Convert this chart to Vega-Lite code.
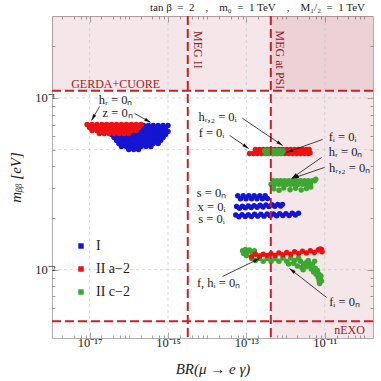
{
"$schema":"https://vega.github.io/schema/vega-lite/v6.json",
"width":321,"height":322,"autosize":"none",
"padding":{"left":52,"top":16,"right":8,"bottom":43},
"background":"white",
"config":{"view":{"stroke":"#b0b0b0","strokeWidth":1},"font":"Liberation Serif"},
"title":{"text":"tan β\u2002=\u20022\u2003,\u2003m₀\u2002=\u20021 TeV\u2003,\u2003M₁/₂\u2002=\u20021 TeV","anchor":"end","frame":"group","offset":2,"dx":-8,"font":"Liberation Serif","fontSize":11,"fontWeight":"normal","color":"#222"},
"resolve":{"axis":{"x":"independent","y":"independent"}},
"datasets":{
"points":[
{"br":2.371e-17,"mbb":0.0692,"model":"I"},{"br":3.162e-17,"mbb":0.0692,"model":"I"},{"br":4.217e-17,"mbb":0.0692,"model":"I"},{"br":5.623e-17,"mbb":0.0692,"model":"I"},{"br":7.499e-17,"mbb":0.0692,"model":"I"},{"br":1e-16,"mbb":0.0692,"model":"I"},{"br":1.334e-16,"mbb":0.0692,"model":"I"},{"br":1.778e-16,"mbb":0.0692,"model":"I"},{"br":2.371e-16,"mbb":0.0692,"model":"I"},{"br":3.162e-16,"mbb":0.0692,"model":"I"},{"br":4.217e-16,"mbb":0.0692,"model":"I"},{"br":5.623e-16,"mbb":0.0692,"model":"I"},{"br":7.499e-16,"mbb":0.0692,"model":"I"},{"br":1e-15,"mbb":0.0692,"model":"I"},
{"br":2.738e-17,"mbb":0.0664,"model":"I"},{"br":3.652e-17,"mbb":0.0664,"model":"I"},{"br":4.87e-17,"mbb":0.0664,"model":"I"},{"br":6.494e-17,"mbb":0.0664,"model":"I"},{"br":8.66e-17,"mbb":0.0664,"model":"I"},{"br":1.155e-16,"mbb":0.0664,"model":"I"},{"br":1.54e-16,"mbb":0.0664,"model":"I"},{"br":2.054e-16,"mbb":0.0664,"model":"I"},{"br":2.738e-16,"mbb":0.0664,"model":"I"},{"br":3.652e-16,"mbb":0.0664,"model":"I"},{"br":4.87e-16,"mbb":0.0664,"model":"I"},{"br":6.494e-16,"mbb":0.0664,"model":"I"},{"br":8.66e-16,"mbb":0.0664,"model":"I"},
{"br":3.162e-17,"mbb":0.0638,"model":"I"},{"br":4.217e-17,"mbb":0.0638,"model":"I"},{"br":5.623e-17,"mbb":0.0638,"model":"I"},{"br":7.499e-17,"mbb":0.0638,"model":"I"},{"br":1e-16,"mbb":0.0638,"model":"I"},{"br":1.334e-16,"mbb":0.0638,"model":"I"},{"br":1.778e-16,"mbb":0.0638,"model":"I"},{"br":2.371e-16,"mbb":0.0638,"model":"I"},{"br":3.162e-16,"mbb":0.0638,"model":"I"},{"br":4.217e-16,"mbb":0.0638,"model":"I"},{"br":5.623e-16,"mbb":0.0638,"model":"I"},{"br":7.499e-16,"mbb":0.0638,"model":"I"},{"br":1e-15,"mbb":0.0638,"model":"I"},
{"br":3.652e-17,"mbb":0.0613,"model":"I"},{"br":4.87e-17,"mbb":0.0613,"model":"I"},{"br":6.494e-17,"mbb":0.0613,"model":"I"},{"br":8.66e-17,"mbb":0.0613,"model":"I"},{"br":1.155e-16,"mbb":0.0613,"model":"I"},{"br":1.54e-16,"mbb":0.0613,"model":"I"},{"br":2.054e-16,"mbb":0.0613,"model":"I"},{"br":2.738e-16,"mbb":0.0613,"model":"I"},{"br":3.652e-16,"mbb":0.0613,"model":"I"},{"br":4.87e-16,"mbb":0.0613,"model":"I"},{"br":6.494e-16,"mbb":0.0613,"model":"I"},{"br":8.66e-16,"mbb":0.0613,"model":"I"},
{"br":4.217e-17,"mbb":0.0589,"model":"I"},{"br":5.623e-17,"mbb":0.0589,"model":"I"},{"br":7.499e-17,"mbb":0.0589,"model":"I"},{"br":1e-16,"mbb":0.0589,"model":"I"},{"br":1.334e-16,"mbb":0.0589,"model":"I"},{"br":1.778e-16,"mbb":0.0589,"model":"I"},{"br":2.371e-16,"mbb":0.0589,"model":"I"},{"br":3.162e-16,"mbb":0.0589,"model":"I"},{"br":4.217e-16,"mbb":0.0589,"model":"I"},{"br":5.623e-16,"mbb":0.0589,"model":"I"},{"br":7.499e-16,"mbb":0.0589,"model":"I"},
{"br":4.87e-17,"mbb":0.0565,"model":"I"},{"br":6.494e-17,"mbb":0.0565,"model":"I"},{"br":8.66e-17,"mbb":0.0565,"model":"I"},{"br":1.155e-16,"mbb":0.0565,"model":"I"},{"br":1.54e-16,"mbb":0.0565,"model":"I"},{"br":2.054e-16,"mbb":0.0565,"model":"I"},{"br":2.738e-16,"mbb":0.0565,"model":"I"},{"br":3.652e-16,"mbb":0.0565,"model":"I"},{"br":4.87e-16,"mbb":0.0565,"model":"I"},{"br":6.494e-16,"mbb":0.0565,"model":"I"},
{"br":5.623e-17,"mbb":0.0543,"model":"I"},{"br":7.499e-17,"mbb":0.0543,"model":"I"},{"br":1e-16,"mbb":0.0543,"model":"I"},{"br":1.334e-16,"mbb":0.0543,"model":"I"},{"br":1.778e-16,"mbb":0.0543,"model":"I"},{"br":2.371e-16,"mbb":0.0543,"model":"I"},{"br":3.162e-16,"mbb":0.0543,"model":"I"},{"br":4.217e-16,"mbb":0.0543,"model":"I"},{"br":5.623e-16,"mbb":0.0543,"model":"I"},
{"br":6.494e-17,"mbb":0.0522,"model":"I"},{"br":8.66e-17,"mbb":0.0522,"model":"I"},{"br":1.155e-16,"mbb":0.0522,"model":"I"},{"br":1.54e-16,"mbb":0.0522,"model":"I"},{"br":2.054e-16,"mbb":0.0522,"model":"I"},{"br":2.738e-16,"mbb":0.0522,"model":"I"},{"br":3.652e-16,"mbb":0.0522,"model":"I"},
{"br":1e-16,"mbb":0.0501,"model":"I"},{"br":1.334e-16,"mbb":0.0501,"model":"I"},{"br":1.778e-16,"mbb":0.0501,"model":"I"},
{"br":8.66e-18,"mbb":0.0701,"model":"II a−2"},{"br":1.155e-17,"mbb":0.0701,"model":"II a−2"},{"br":1.54e-17,"mbb":0.0701,"model":"II a−2"},{"br":2.054e-17,"mbb":0.0701,"model":"II a−2"},{"br":2.738e-17,"mbb":0.0701,"model":"II a−2"},{"br":3.652e-17,"mbb":0.0701,"model":"II a−2"},{"br":4.87e-17,"mbb":0.0701,"model":"II a−2"},{"br":6.494e-17,"mbb":0.0701,"model":"II a−2"},{"br":8.66e-17,"mbb":0.0701,"model":"II a−2"},{"br":1.155e-16,"mbb":0.0701,"model":"II a−2"},{"br":1.54e-16,"mbb":0.0701,"model":"II a−2"},{"br":2.054e-16,"mbb":0.0701,"model":"II a−2"},
{"br":1e-17,"mbb":0.0673,"model":"II a−2"},{"br":1.334e-17,"mbb":0.0673,"model":"II a−2"},{"br":1.778e-17,"mbb":0.0673,"model":"II a−2"},{"br":2.371e-17,"mbb":0.0673,"model":"II a−2"},{"br":3.162e-17,"mbb":0.0673,"model":"II a−2"},{"br":4.217e-17,"mbb":0.0673,"model":"II a−2"},{"br":5.623e-17,"mbb":0.0673,"model":"II a−2"},{"br":7.499e-17,"mbb":0.0673,"model":"II a−2"},{"br":1e-16,"mbb":0.0673,"model":"II a−2"},{"br":1.334e-16,"mbb":0.0673,"model":"II a−2"},{"br":1.778e-16,"mbb":0.0673,"model":"II a−2"},
{"br":1.155e-17,"mbb":0.0647,"model":"II a−2"},{"br":1.54e-17,"mbb":0.0647,"model":"II a−2"},{"br":2.054e-17,"mbb":0.0647,"model":"II a−2"},{"br":2.738e-17,"mbb":0.0647,"model":"II a−2"},{"br":3.652e-17,"mbb":0.0647,"model":"II a−2"},{"br":4.87e-17,"mbb":0.0647,"model":"II a−2"},{"br":6.494e-17,"mbb":0.0647,"model":"II a−2"},{"br":8.66e-17,"mbb":0.0647,"model":"II a−2"},{"br":1.155e-16,"mbb":0.0647,"model":"II a−2"},{"br":1.54e-16,"mbb":0.0647,"model":"II a−2"},
{"br":1.778e-17,"mbb":0.0621,"model":"II a−2"},{"br":2.371e-17,"mbb":0.0621,"model":"II a−2"},{"br":3.162e-17,"mbb":0.0621,"model":"II a−2"},{"br":4.217e-17,"mbb":0.0621,"model":"II a−2"},{"br":5.623e-17,"mbb":0.0621,"model":"II a−2"},{"br":7.499e-17,"mbb":0.0621,"model":"II a−2"},{"br":1e-16,"mbb":0.0621,"model":"II a−2"},
{"br":1.2e-13,"mbb":0.0475,"model":"II a−2"},{"br":1.51e-13,"mbb":0.0475,"model":"II a−2"},{"br":1.91e-13,"mbb":0.0475,"model":"II a−2"},{"br":2.4e-13,"mbb":0.0475,"model":"II a−2"},{"br":3.02e-13,"mbb":0.0475,"model":"II a−2"},{"br":3.8e-13,"mbb":0.0475,"model":"II a−2"},{"br":4.79e-13,"mbb":0.0475,"model":"II a−2"},{"br":6.03e-13,"mbb":0.0475,"model":"II a−2"},{"br":7.59e-13,"mbb":0.0475,"model":"II a−2"},{"br":9.55e-13,"mbb":0.0475,"model":"II a−2"},{"br":1.2e-12,"mbb":0.0475,"model":"II a−2"},{"br":1.51e-12,"mbb":0.0475,"model":"II a−2"},{"br":1.91e-12,"mbb":0.0475,"model":"II a−2"},{"br":2.4e-12,"mbb":0.0475,"model":"II a−2"},{"br":3.02e-12,"mbb":0.0475,"model":"II a−2"},{"br":3.8e-12,"mbb":0.0475,"model":"II a−2"},{"br":4.2e-12,"mbb":0.0478,"model":"II a−2"},
{"br":1.7e-13,"mbb":0.0501,"model":"II a−2"},{"br":2.14e-13,"mbb":0.0501,"model":"II a−2"},{"br":2.69e-13,"mbb":0.0501,"model":"II a−2"},{"br":3.39e-13,"mbb":0.0501,"model":"II a−2"},{"br":4.27e-13,"mbb":0.0501,"model":"II a−2"},{"br":5.37e-13,"mbb":0.0501,"model":"II a−2"},{"br":6.76e-13,"mbb":0.0501,"model":"II a−2"},{"br":8.51e-13,"mbb":0.0501,"model":"II a−2"},{"br":1.07e-12,"mbb":0.0501,"model":"II a−2"},{"br":1.35e-12,"mbb":0.0501,"model":"II a−2"},{"br":1.7e-12,"mbb":0.0501,"model":"II a−2"},{"br":2.14e-12,"mbb":0.0501,"model":"II a−2"},{"br":2.69e-12,"mbb":0.0501,"model":"II a−2"},{"br":3.39e-12,"mbb":0.0501,"model":"II a−2"},{"br":4.0e-12,"mbb":0.0501,"model":"II a−2"},
{"br":2.9e-13,"mbb":0.0492,"model":"II c−2"},{"br":3.5e-13,"mbb":0.0492,"model":"II c−2"},{"br":4.2e-13,"mbb":0.0492,"model":"II c−2"},{"br":5.0e-13,"mbb":0.0492,"model":"II c−2"},{"br":6.0e-13,"mbb":0.0492,"model":"II c−2"},{"br":7.2e-13,"mbb":0.0492,"model":"II c−2"},{"br":8.6e-13,"mbb":0.0492,"model":"II c−2"},
{"br":3.2e-13,"mbb":0.0474,"model":"II c−2"},{"br":3.8e-13,"mbb":0.0474,"model":"II c−2"},{"br":4.6e-13,"mbb":0.0474,"model":"II c−2"},{"br":5.5e-13,"mbb":0.0474,"model":"II c−2"},{"br":6.6e-13,"mbb":0.0474,"model":"II c−2"},{"br":7.9e-13,"mbb":0.0474,"model":"II c−2"},
{"br":4.79e-13,"mbb":0.0329,"model":"II c−2"},{"br":6.03e-13,"mbb":0.0329,"model":"II c−2"},{"br":7.59e-13,"mbb":0.0329,"model":"II c−2"},{"br":9.55e-13,"mbb":0.0329,"model":"II c−2"},{"br":1.2e-12,"mbb":0.0329,"model":"II c−2"},{"br":1.51e-12,"mbb":0.0329,"model":"II c−2"},{"br":1.91e-12,"mbb":0.0329,"model":"II c−2"},{"br":2.4e-12,"mbb":0.0329,"model":"II c−2"},{"br":3.02e-12,"mbb":0.0329,"model":"II c−2"},{"br":3.8e-12,"mbb":0.0329,"model":"II c−2"},{"br":4.79e-12,"mbb":0.0329,"model":"II c−2"},{"br":5.5e-12,"mbb":0.0329,"model":"II c−2"},
{"br":4.27e-13,"mbb":0.0314,"model":"II c−2"},{"br":5.37e-13,"mbb":0.0314,"model":"II c−2"},{"br":6.76e-13,"mbb":0.0314,"model":"II c−2"},{"br":8.51e-13,"mbb":0.0314,"model":"II c−2"},{"br":1.07e-12,"mbb":0.0314,"model":"II c−2"},{"br":1.35e-12,"mbb":0.0314,"model":"II c−2"},{"br":1.7e-12,"mbb":0.0314,"model":"II c−2"},{"br":2.14e-12,"mbb":0.0314,"model":"II c−2"},{"br":2.69e-12,"mbb":0.0314,"model":"II c−2"},{"br":3.39e-12,"mbb":0.0314,"model":"II c−2"},{"br":4.27e-12,"mbb":0.0314,"model":"II c−2"},
{"br":5.0e-13,"mbb":0.0296,"model":"II c−2"},{"br":6.8e-13,"mbb":0.029,"model":"II c−2"},{"br":9.0e-13,"mbb":0.0299,"model":"II c−2"},{"br":1.3e-12,"mbb":0.0292,"model":"II c−2"},{"br":1.8e-12,"mbb":0.0298,"model":"II c−2"},{"br":2.5e-12,"mbb":0.0291,"model":"II c−2"},{"br":3.4e-12,"mbb":0.0297,"model":"II c−2"},{"br":5.9e-12,"mbb":0.0336,"model":"II c−2"},{"br":4.4e-12,"mbb":0.0303,"model":"II c−2"},
{"br":6.03e-14,"mbb":0.0269,"model":"I"},{"br":7.08e-14,"mbb":0.0259,"model":"I"},{"br":8.32e-14,"mbb":0.0269,"model":"I"},{"br":9.77e-14,"mbb":0.0259,"model":"I"},{"br":1.15e-13,"mbb":0.0269,"model":"I"},{"br":1.35e-13,"mbb":0.0259,"model":"I"},{"br":1.58e-13,"mbb":0.0269,"model":"I"},{"br":1.86e-13,"mbb":0.0259,"model":"I"},{"br":2.19e-13,"mbb":0.0269,"model":"I"},{"br":2.57e-13,"mbb":0.0259,"model":"I"},{"br":3.02e-13,"mbb":0.0269,"model":"I"},{"br":3.47e-13,"mbb":0.026,"model":"I"},
{"br":5.62e-14,"mbb":0.0233,"model":"I"},{"br":6.68e-14,"mbb":0.0228,"model":"I"},{"br":7.94e-14,"mbb":0.0234,"model":"I"},{"br":9.44e-14,"mbb":0.0229,"model":"I"},{"br":1.12e-13,"mbb":0.0235,"model":"I"},{"br":1.33e-13,"mbb":0.023,"model":"I"},{"br":1.58e-13,"mbb":0.0236,"model":"I"},{"br":1.88e-13,"mbb":0.0231,"model":"I"},{"br":2.24e-13,"mbb":0.0237,"model":"I"},{"br":2.66e-13,"mbb":0.0232,"model":"I"},{"br":3.16e-13,"mbb":0.0238,"model":"I"},{"br":3.76e-13,"mbb":0.0233,"model":"I"},{"br":4.47e-13,"mbb":0.0239,"model":"I"},{"br":5.31e-13,"mbb":0.0234,"model":"I"},{"br":6.31e-13,"mbb":0.024,"model":"I"},{"br":7.5e-13,"mbb":0.0235,"model":"I"},{"br":8.32e-13,"mbb":0.024,"model":"I"},
{"br":5.37e-14,"mbb":0.0208,"model":"I"},{"br":6.46e-14,"mbb":0.0203,"model":"I"},{"br":7.76e-14,"mbb":0.0209,"model":"I"},{"br":9.33e-14,"mbb":0.0204,"model":"I"},{"br":1.12e-13,"mbb":0.0209,"model":"I"},{"br":1.35e-13,"mbb":0.0204,"model":"I"},{"br":1.62e-13,"mbb":0.021,"model":"I"},{"br":1.95e-13,"mbb":0.0205,"model":"I"},{"br":2.34e-13,"mbb":0.021,"model":"I"},{"br":2.82e-13,"mbb":0.0205,"model":"I"},{"br":3.39e-13,"mbb":0.0211,"model":"I"},{"br":4.07e-13,"mbb":0.0206,"model":"I"},{"br":4.9e-13,"mbb":0.0211,"model":"I"},{"br":5.89e-13,"mbb":0.0206,"model":"I"},{"br":7.08e-13,"mbb":0.0212,"model":"I"},{"br":8.51e-13,"mbb":0.0207,"model":"I"},{"br":1.02e-12,"mbb":0.0212,"model":"I"},{"br":1.23e-12,"mbb":0.0207,"model":"I"},{"br":1.48e-12,"mbb":0.0213,"model":"I"},{"br":1.78e-12,"mbb":0.0208,"model":"I"},{"br":2.14e-12,"mbb":0.0213,"model":"I"},
{"br":8.0e-14,"mbb":0.0129,"model":"II c−2"},{"br":8.5e-14,"mbb":0.0124,"model":"II c−2"},{"br":9.5e-14,"mbb":0.0131,"model":"II c−2"},{"br":1.05e-13,"mbb":0.0126,"model":"II c−2"},{"br":1.2e-13,"mbb":0.013,"model":"II c−2"},{"br":1.4e-13,"mbb":0.0127,"model":"II c−2"},{"br":1.6e-13,"mbb":0.0129,"model":"II c−2"},{"br":1.0e-13,"mbb":0.0121,"model":"II c−2"},
{"br":1.35e-13,"mbb":0.0116,"model":"II c−2"},{"br":1.7e-13,"mbb":0.0113,"model":"II c−2"},{"br":2.14e-13,"mbb":0.0116,"model":"II c−2"},{"br":2.69e-13,"mbb":0.0112,"model":"II c−2"},{"br":3.39e-13,"mbb":0.0116,"model":"II c−2"},{"br":4.27e-13,"mbb":0.0112,"model":"II c−2"},{"br":5.37e-13,"mbb":0.0116,"model":"II c−2"},{"br":6.76e-13,"mbb":0.0112,"model":"II c−2"},{"br":8.51e-13,"mbb":0.0117,"model":"II c−2"},{"br":1.07e-12,"mbb":0.0112,"model":"II c−2"},{"br":1.35e-12,"mbb":0.0117,"model":"II c−2"},{"br":1.7e-12,"mbb":0.0113,"model":"II c−2"},{"br":2.14e-12,"mbb":0.0117,"model":"II c−2"},
{"br":1.2e-12,"mbb":0.0108,"model":"II c−2"},{"br":1.6e-12,"mbb":0.0109,"model":"II c−2"},{"br":2.0e-12,"mbb":0.0105,"model":"II c−2"},{"br":2.6e-12,"mbb":0.0103,"model":"II c−2"},{"br":2.8e-12,"mbb":0.01,"model":"II c−2"},
{"br":2.4e-12,"mbb":0.0112,"model":"II c−2"},{"br":2.9e-12,"mbb":0.0108,"model":"II c−2"},{"br":3.4e-12,"mbb":0.011,"model":"II c−2"},{"br":3.4e-12,"mbb":0.0104,"model":"II c−2"},{"br":4.0e-12,"mbb":0.0106,"model":"II c−2"},{"br":4.5e-12,"mbb":0.0101,"model":"II c−2"},{"br":4.8e-12,"mbb":0.0108,"model":"II c−2"},{"br":5.2e-12,"mbb":0.0097,"model":"II c−2"},{"br":5.7e-12,"mbb":0.0102,"model":"II c−2"},{"br":6.0e-12,"mbb":0.0094,"model":"II c−2"},{"br":6.5e-12,"mbb":0.0099,"model":"II c−2"},{"br":6.8e-12,"mbb":0.009,"model":"II c−2"},{"br":7.1e-12,"mbb":0.0094,"model":"II c−2"},{"br":7.2e-12,"mbb":0.0086,"model":"II c−2"},{"br":7.6e-12,"mbb":0.0089,"model":"II c−2"},{"br":7.4e-12,"mbb":0.0083,"model":"II c−2"},{"br":8.0e-12,"mbb":0.0092,"model":"II c−2"},{"br":8.2e-12,"mbb":0.0086,"model":"II c−2"},{"br":3.8e-12,"mbb":0.0113,"model":"II c−2"},{"br":5.5e-12,"mbb":0.0112,"model":"II c−2"},
{"br":1.35e-13,"mbb":0.0119,"model":"II a−2"},{"br":1.7e-13,"mbb":0.0123,"model":"II a−2"},{"br":2.14e-13,"mbb":0.012,"model":"II a−2"},{"br":2.69e-13,"mbb":0.0123,"model":"II a−2"},{"br":3.39e-13,"mbb":0.0121,"model":"II a−2"},{"br":4.27e-13,"mbb":0.0124,"model":"II a−2"},{"br":5.37e-13,"mbb":0.0121,"model":"II a−2"},{"br":6.76e-13,"mbb":0.0125,"model":"II a−2"},{"br":8.51e-13,"mbb":0.0122,"model":"II a−2"},{"br":1.07e-12,"mbb":0.0126,"model":"II a−2"},{"br":1.35e-12,"mbb":0.0123,"model":"II a−2"},{"br":1.7e-12,"mbb":0.0127,"model":"II a−2"},{"br":2.14e-12,"mbb":0.0124,"model":"II a−2"},{"br":2.69e-12,"mbb":0.0128,"model":"II a−2"},{"br":3.39e-12,"mbb":0.0125,"model":"II a−2"},{"br":4.27e-12,"mbb":0.0129,"model":"II a−2"},{"br":5.37e-12,"mbb":0.0126,"model":"II a−2"},{"br":6.76e-12,"mbb":0.013,"model":"II a−2"},{"br":8.51e-12,"mbb":0.0127,"model":"II a−2"},{"br":7.6e-12,"mbb":0.0132,"model":"II a−2"},{"br":8.3e-12,"mbb":0.0131,"model":"II a−2"}
],
"arrows":[
{"ax":1.8e-17,"ay":0.0892,"bx":1.125e-17,"by":0.074},
{"ax":1.41e-16,"ay":0.0812,"bx":3.6e-16,"by":0.072},
{"ax":7.99e-14,"ay":0.076,"bx":8.38e-13,"by":0.0529},
{"ax":3.73e-14,"ay":0.0605,"bx":1.14e-13,"by":0.0508},
{"ax":8.79e-12,"ay":0.0573,"bx":1.06e-12,"by":0.0482},
{"ax":8.28e-12,"ay":0.045,"bx":1.42e-12,"by":0.034},
{"ax":9.88e-12,"ay":0.0394,"bx":1.51e-12,"by":0.034},
{"ax":2.47e-14,"ay":0.00913,"bx":2.17e-13,"by":0.01162},
{"ax":1.11e-11,"ay":0.00689,"bx":1.26e-12,"by":0.01016}
],
"notes":[
{"x":4.61e-17,"y":0.0967,"t":"hᵣ = 0ₙ"},
{"x":5.18e-17,"y":0.0812,"t":"z = 0ₙ"},
{"x":1.84e-14,"y":0.077,"t":"hᵣ,₂ = 0ᵢ"},
{"x":1.29e-14,"y":0.0621,"t":"f = 0ᵢ"},
{"x":2.84e-11,"y":0.0589,"t":"fᵢ = 0ᵢ"},
{"x":3.4e-11,"y":0.0482,"t":"hᵣ = 0ₙ"},
{"x":4.3e-11,"y":0.0389,"t":"hᵣ,₂ = 0ₙ"},
{"x":1.29e-14,"y":0.0278,"t":"s = 0ₙ"},
{"x":1.29e-14,"y":0.0233,"t":"x = 0ᵢ"},
{"x":1.29e-14,"y":0.0196,"t":"s = 0ᵢ"},
{"x":1.95e-14,"y":0.00831,"t":"f, hᵢ = 0ₙ"},
{"x":3.2e-11,"y":0.00644,"t":"fᵢ = 0ₙ"}
]
},
"layer":[
{"data":{"values":[{"x1":1.1e-18,"x2":1.7e-10,"y1":0.11,"y2":0.3},{"x1":4.2e-13,"x2":1.7e-10,"y1":0.004,"y2":0.3}]},
 "mark":{"type":"rect","color":"#a8283a","opacity":0.11},
 "encoding":{
  "x":{"field":"x1","type":"quantitative","scale":{"type":"log","domain":[1.1e-18,1.7e-10],"nice":false},
   "axis":{"orient":"top","values":[2e-18,4e-18,6e-18,8e-18,1e-17,2e-17,4e-17,6e-17,8e-17,1e-16,2e-16,4e-16,6e-16,8e-16,1e-15,2e-15,4e-15,6e-15,8e-15,1e-14,2e-14,4e-14,6e-14,8e-14,1e-13,2e-13,4e-13,6e-13,8e-13,1e-12,2e-12,4e-12,6e-12,8e-12,1e-11,2e-11,4e-11,6e-11,8e-11,1e-10],"labels":false,"domain":false,"grid":false,"title":null,"tickColor":"#8c8c8c","tickWidth":0.8,"tickSize":{"condition":{"test":"datum.value==1e-17||datum.value==1e-15||datum.value==1e-13||datum.value==1e-11","value":-6},"value":-3}}},
  "x2":{"field":"x2"},
  "y":{"field":"y1","type":"quantitative","scale":{"type":"log","domain":[0.004,0.3],"nice":false},
   "axis":{"orient":"right","values":[0.005,0.006,0.007,0.008,0.009,0.01,0.02,0.03,0.04,0.05,0.06,0.07,0.08,0.09,0.1,0.2],"labels":false,"domain":false,"grid":false,"title":null,"tickColor":"#8c8c8c","tickWidth":0.8,"tickSize":{"condition":{"test":"datum.value==0.01||datum.value==0.1","value":-6},"value":-3}}},
  "y2":{"field":"y2"}}},
{"data":{"values":[{"g":1e-17},{"g":1e-15},{"g":1e-13},{"g":1e-11}]},
 "mark":{"type":"rule","color":"#c8c8c8","strokeDash":[3,3],"strokeWidth":0.7},
 "encoding":{"x":{"field":"g","type":"quantitative","scale":{"type":"log","domain":[1.1e-18,1.7e-10],"nice":false},"axis":null}}},
{"data":{"values":[{"g":0.005},{"g":0.01},{"g":0.05},{"g":0.1}]},
 "mark":{"type":"rule","color":"#c8c8c8","strokeDash":[3,3],"strokeWidth":0.7},
 "encoding":{"y":{"field":"g","type":"quantitative","scale":{"type":"log","domain":[0.004,0.3],"nice":false},"axis":null}}},
{"data":{"name":"points"},
 "mark":{"type":"point","filled":true,"size":30,"opacity":1,"strokeWidth":0},
 "encoding":{
  "x":{"field":"br","type":"quantitative","scale":{"type":"log","domain":[1.1e-18,1.7e-10],"nice":false},
   "axis":{"orient":"bottom","values":[2e-18,4e-18,6e-18,8e-18,1e-17,2e-17,4e-17,6e-17,8e-17,1e-16,2e-16,4e-16,6e-16,8e-16,1e-15,2e-15,4e-15,6e-15,8e-15,1e-14,2e-14,4e-14,6e-14,8e-14,1e-13,2e-13,4e-13,6e-13,8e-13,1e-12,2e-12,4e-12,6e-12,8e-12,1e-11,2e-11,4e-11,6e-11,8e-11,1e-10],"domain":false,"grid":false,"tickColor":"#8c8c8c","tickWidth":0.8,"tickSize":{"condition":{"test":"datum.value==1e-17||datum.value==1e-15||datum.value==1e-13||datum.value==1e-11","value":-6},"value":-3},
    "labelExpr":"datum.value==1e-17?'10⁻¹⁷':datum.value==1e-15?'10⁻¹⁵':datum.value==1e-13?'10⁻¹³':datum.value==1e-11?'10⁻¹¹':''",
    "labelOverlap":false,"labelFlush":false,"labelBound":false,"labelFont":"Liberation Serif","labelFontSize":12.5,"labelColor":"#222","labelPadding":4,
    "title":"BR(μ → e γ)","titleFont":"Liberation Serif","titleFontSize":15,"titleFontWeight":"normal","titleFontStyle":"italic","titleColor":"#222","titleBaseline":"middle","titleY":30}},
  "y":{"field":"mbb","type":"quantitative","scale":{"type":"log","domain":[0.004,0.3],"nice":false},
   "axis":{"orient":"left","values":[0.005,0.006,0.007,0.008,0.009,0.01,0.02,0.03,0.04,0.05,0.06,0.07,0.08,0.09,0.1,0.2],"domain":false,"grid":false,"tickColor":"#8c8c8c","tickWidth":0.8,"tickSize":{"condition":{"test":"datum.value==0.01||datum.value==0.1","value":-6},"value":-3},
    "labelExpr":"datum.value==0.01?'10⁻²':datum.value==0.1?'10⁻¹':''","labelOverlap":false,"labelFont":"Liberation Serif","labelFontSize":12.5,"labelColor":"#222","labelPadding":3,
    "title":"mᵦᵦ [eV]","titleFont":"Liberation Serif","titleFontSize":15,"titleFontWeight":"normal","titleFontStyle":"italic","titleColor":"#222","titleX":-37,"titleY":161,"titleAlign":"center","titleBaseline":"middle"}},
  "color":{"field":"model","type":"nominal","scale":{"domain":["I","II a−2","II c−2"],"range":["#1414d2","#ee1111","#3ca832"]},
   "legend":{"orient":"none","legendX":22,"legendY":223,"title":null,"symbolType":"square","symbolSize":30,"symbolStrokeWidth":0,"labelFont":"Liberation Serif","labelFontSize":14,"labelColor":"#222","rowPadding":9,"labelOffset":8,"padding":0}}}},
{"data":{"values":[{"v":3.2e-15},{"v":4.2e-13}]},
 "mark":{"type":"rule","color":"#c8202a","strokeDash":[9,4],"strokeWidth":2},
 "encoding":{"x":{"field":"v","type":"quantitative","scale":{"type":"log","domain":[1.1e-18,1.7e-10],"nice":false},"axis":null}}},
{"data":{"values":[{"h":0.11},{"h":0.005}]},
 "mark":{"type":"rule","color":"#c8202a","strokeDash":[9,4],"strokeWidth":2},
 "encoding":{"y":{"field":"h","type":"quantitative","scale":{"type":"log","domain":[0.004,0.3],"nice":false},"axis":null}}},
{"data":{"name":"arrows"},
 "mark":{"type":"rule","color":"#111","strokeWidth":0.8},
 "encoding":{"x":{"field":"ax","type":"quantitative","scale":{"type":"log","domain":[1.1e-18,1.7e-10],"nice":false},"axis":null},"x2":{"field":"bx"},
  "y":{"field":"ay","type":"quantitative","scale":{"type":"log","domain":[0.004,0.3],"nice":false},"axis":null},"y2":{"field":"by"}}},
{"data":{"name":"arrows"},
 "transform":[{"calculate":"atan2(39.2*log(datum.bx/datum.ax)/LN10, 171.7*log(datum.by/datum.ay)/LN10)*180/PI","as":"ang"}],
 "mark":{"type":"point","shape":"M0,0L-0.55,2L0.55,2Z","filled":true,"size":40,"color":"#111","opacity":1,"strokeWidth":0},
 "encoding":{"x":{"field":"bx","type":"quantitative","scale":{"type":"log","domain":[1.1e-18,1.7e-10],"nice":false},"axis":null},
  "y":{"field":"by","type":"quantitative","scale":{"type":"log","domain":[0.004,0.3],"nice":false},"axis":null},
  "angle":{"field":"ang","type":"quantitative","scale":null}}},
{"data":{"name":"notes"},
 "mark":{"type":"text","font":"Liberation Serif","fontSize":12.5,"color":"#1a1a1a","align":"center","baseline":"middle"},
 "encoding":{"x":{"field":"x","type":"quantitative","scale":{"type":"log","domain":[1.1e-18,1.7e-10],"nice":false},"axis":null},
  "y":{"field":"y","type":"quantitative","scale":{"type":"log","domain":[0.004,0.3],"nice":false},"axis":null},
  "text":{"field":"t"}}},
{"data":{"values":[{"x":4.61e-17,"y":0.1199,"t":"GERDA+CUORE"},{"x":4.3e-11,"y":0.00443,"t":"nEXO"}]},
 "mark":{"type":"text","font":"Liberation Serif","fontSize":12,"color":"#9a1b22","align":"center","baseline":"middle"},
 "encoding":{"x":{"field":"x","type":"quantitative","scale":{"type":"log","domain":[1.1e-18,1.7e-10],"nice":false},"axis":null},
  "y":{"field":"y","type":"quantitative","scale":{"type":"log","domain":[0.004,0.3],"nice":false},"axis":null},
  "text":{"field":"t"}}},
{"data":{"values":[{"x":5.69e-15,"y":0.1904,"t":"MEG II"},{"x":7.03e-13,"y":0.1665,"t":"MEG at PSI"}]},
 "mark":{"type":"text","font":"Liberation Serif","fontSize":12,"color":"#9a1b22","align":"center","baseline":"middle","angle":90},
 "encoding":{"x":{"field":"x","type":"quantitative","scale":{"type":"log","domain":[1.1e-18,1.7e-10],"nice":false},"axis":null},
  "y":{"field":"y","type":"quantitative","scale":{"type":"log","domain":[0.004,0.3],"nice":false},"axis":null},
  "text":{"field":"t"}}}
]
}
